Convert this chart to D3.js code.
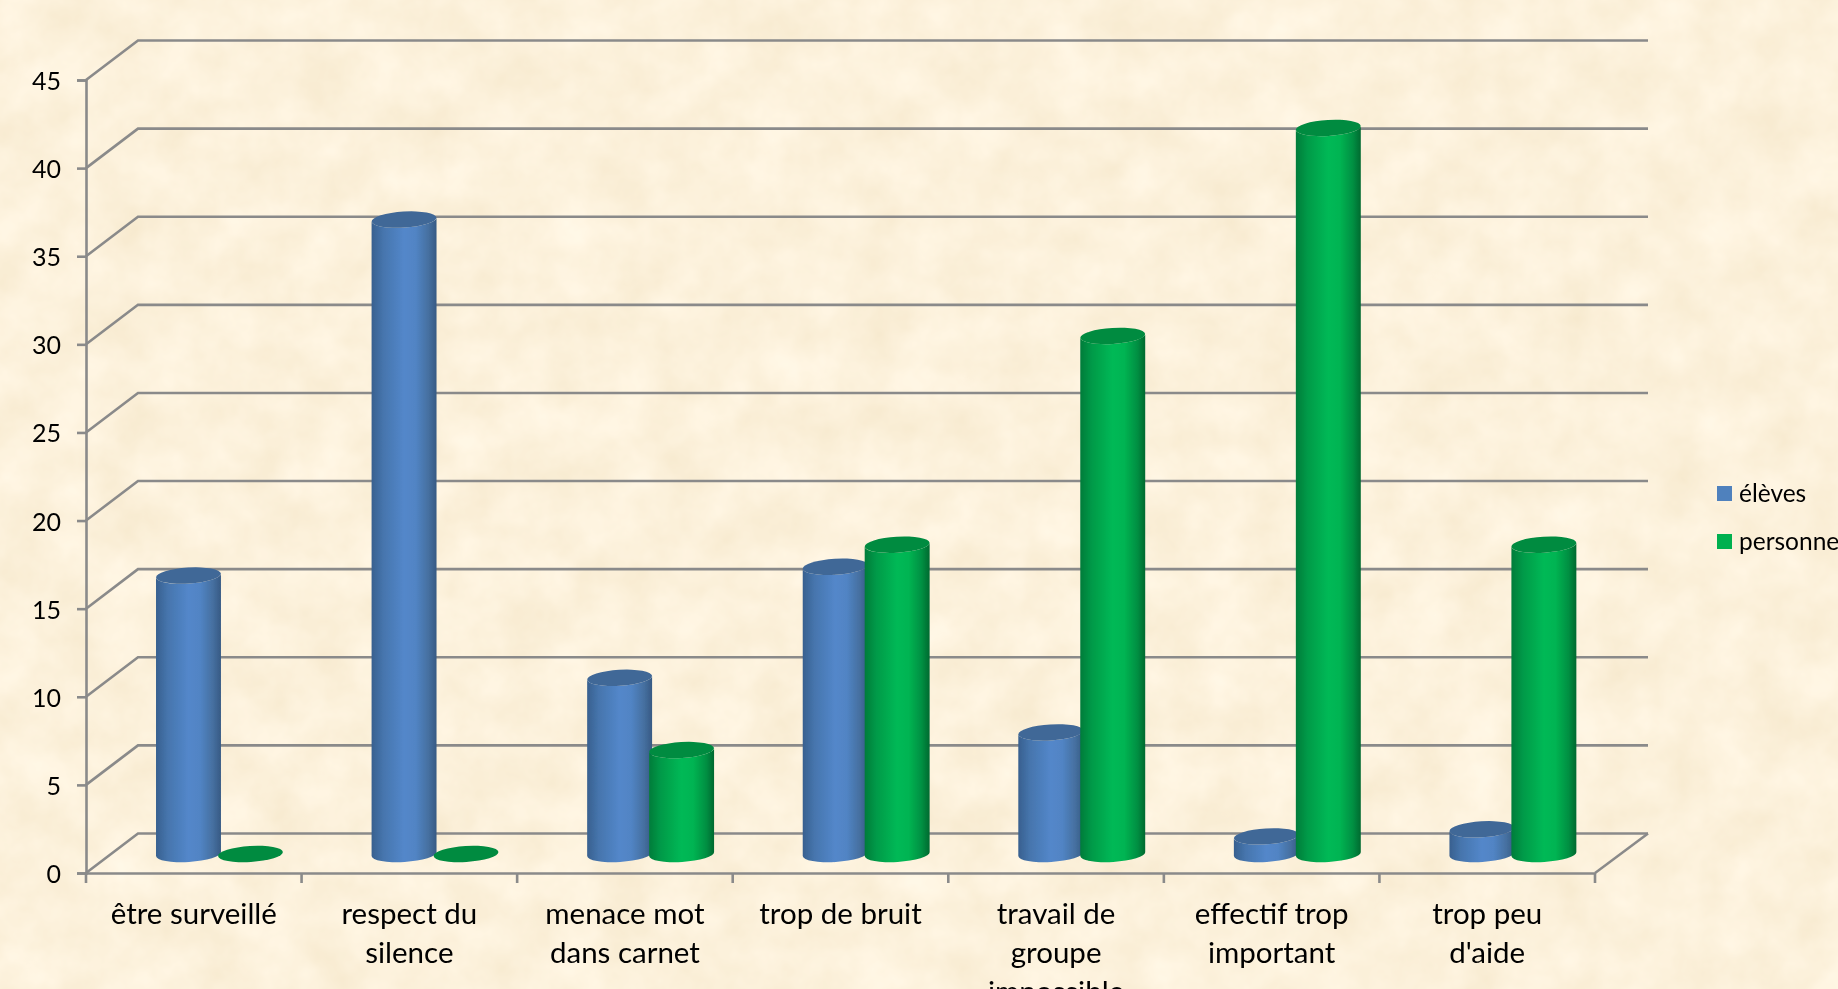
<!DOCTYPE html>
<html lang="fr">
<head>
<meta charset="utf-8">
<script src="https://d3js.org/d3.v7.min.js"></script>
<style>
html,body{margin:0;padding:0;background:#fcf1db;overflow:hidden}
svg{display:block}
text{font-family:Lato,"Open Sans",sans-serif;fill:#000}
</style>
</head>
<body>
<div id="chart"></div>
<script>
const categories = ["être surveillé","respect du silence","menace mot dans carnet","trop de bruit","travail de groupe impossible","effectif trop important","trop peu d'aide"];
const categoryLines = [["être surveillé"],["respect du","silence"],["menace mot","dans carnet"],["trop de bruit"],["travail de","groupe","impossible"],["effectif trop","important"],["trop peu","d'aide"]];
const seriesNames = ["élèves","personnels"];
const eleves = [15.8,36,10,16.3,6.9,1,1.4];
const personnels = [0,0,5.9,17.55,29.4,41.2,17.55];
const yTicks = [0,5,10,15,20,25,30,35,40,45];

const W = 1838, H = 989;
const svg = d3.select("#chart").append("svg").attr("width",W).attr("height",H);
const defs = svg.append("defs");

// parchment background
const pf = defs.append("filter").attr("id","paper").attr("x",0).attr("y",0).attr("width","100%").attr("height","100%")
  .attr("color-interpolation-filters","sRGB");
pf.append("feTurbulence").attr("type","fractalNoise").attr("baseFrequency","0.02").attr("numOctaves",4).attr("seed",11);
pf.append("feColorMatrix").attr("type","matrix").attr("values",
  "0.045 0 0 0 0.966  0.065 0 0 0 0.913  0.11 0 0 0 0.805  0 0 0 0 1");
svg.append("rect").attr("width",W).attr("height",H).attr("fill","#fcf1db").attr("filter","url(#paper)");

const soft = defs.append("filter").attr("id","soft").attr("x","-2%").attr("y","-2%").attr("width","104%").attr("height","104%");
soft.append("feGaussianBlur").attr("stdDeviation",0.5);

function grad(id,stops){
  const g = defs.append("linearGradient").attr("id",id).attr("x1","0").attr("x2","1").attr("y1","0").attr("y2","0");
  stops.forEach(s=>g.append("stop").attr("offset",s[0]).attr("stop-color",s[1]));
}
grad("gBlue",[[0,"#38608f"],[0.18,"#4675ad"],[0.5,"#5387ca"],[0.68,"#5184c4"],[0.88,"#456f9f"],[1,"#375a84"]]);
grad("gGreen",[[0,"#007c3a"],[0.18,"#009a48"],[0.5,"#00b956"],[0.68,"#00b452"],[0.88,"#008f42"],[1,"#00692f"]]);

const root = svg.append("g").attr("filter","url(#soft)");

// scales
const x = d3.scaleBand().domain(categories).range([86,1595]);
const x1 = d3.scaleBand().domain(seriesNames).range([x.bandwidth()*0.3317,x.bandwidth()*0.9066]);
const y = d3.scaleLinear().domain([0,45]).range([873,80]);
const depthX = 52, depthY = 39.5, barDepth = 19;
const gridColor = "#8a8a8a", lineW = 2.6;

// gridlines + wall edges
const grid = root.append("g");
grid.selectAll("path").data(yTicks).join("path")
  .attr("fill","none").attr("stroke",gridColor).attr("stroke-width",lineW)
  .attr("d",d=>`M${x.range()[0]},${y(d)}L${x.range()[0]+depthX},${y(d)-depthY}L${x.range()[1]+depthX+1},${y(d)-depthY}`);
root.append("path").attr("fill","none").attr("stroke",gridColor).attr("stroke-width",lineW)
  .attr("d",`M${x.range()[1]},${y(0)}L${x.range()[1]+depthX+1},${y(0)-depthY}`);

// y axis
const yAxis = root.append("g").attr("transform",`translate(${x.range()[0]},0)`)
  .call(d3.axisLeft(y).tickValues(yTicks).tickSize(9).tickPadding(16).tickFormat(d3.format("d")));
yAxis.attr("font-family",null);
yAxis.selectAll("path,line").attr("stroke",gridColor).attr("stroke-width",lineW);
yAxis.selectAll("text").attr("font-size",25).attr("dy","0.38em");

// x axis
const xAxis = root.append("g").attr("transform",`translate(0,${y(0)})`)
  .call(d3.axisBottom(x).tickSize(0).tickFormat(""));
xAxis.attr("font-family",null);
xAxis.select("path").attr("stroke",gridColor).attr("stroke-width",lineW);
const edges = categories.map(c=>x(c)).concat(x.range()[1]);
xAxis.selectAll("line.edge").data(edges).join("line").attr("class","edge")
  .attr("x1",d=>d).attr("x2",d=>d).attr("y1",0).attr("y2",10)
  .attr("stroke",gridColor).attr("stroke-width",lineW);
const lab = root.append("g").selectAll("text").data(categories).join("text")
  .attr("text-anchor","middle").attr("font-size",29.5)
  .attr("transform",d=>`translate(${x(d)+x.bandwidth()/2},0)`);
lab.selectAll("tspan").data((d,i)=>categoryLines[i]).join("tspan")
  .attr("x",0).attr("y",(d,i)=>924+i*39).text(d=>d);

// cylinders
const rows = [];
categories.forEach((c,i)=>{
  rows.push({c,s:seriesNames[0],v:eleves[i],fill:"url(#gBlue)",top:"#3f6797"});
  rows.push({c,s:seriesNames[1],v:personnels[i],fill:"url(#gGreen)",top:"#008b40"});
});
const rx = x1.bandwidth()*1.048/2, ry = 8, rot = -3.5, tip = 2;
const bars = root.append("g").selectAll("g").data(rows).join("g")
  .attr("transform",d=>`translate(${x(d.c)+x1(d.s)+x1.bandwidth()/2},0)`);
bars.filter(d=>d.v>0).append("path").attr("fill",d=>d.fill)
  .attr("d",d=>{
    const t = y(d.v)-barDepth, b = y(0)-barDepth;
    return `M${-rx},${t+tip}L${-rx},${b+tip}A${rx},${ry} ${rot} 0 0 ${rx},${b-tip}L${rx},${t-tip}A${rx},${ry} ${rot} 0 1 ${-rx},${t+tip}Z`;
  });
bars.append("ellipse").attr("rx",rx).attr("ry",ry).attr("fill",d=>d.top)
  .attr("transform",d=>`translate(0,${y(d.v)-barDepth}) rotate(${rot})`);

// legend
const legend = root.append("g").selectAll("g").data(seriesNames).join("g")
  .attr("transform",(d,i)=>`translate(1717,${486+i*48})`);
legend.append("rect").attr("width",15).attr("height",15).attr("fill",(d,i)=>["#4f81bd","#00b050"][i]);
legend.append("text").attr("x",22).attr("y",16).attr("font-size",24.5).text(d=>d);
</script>
</body>
</html>
